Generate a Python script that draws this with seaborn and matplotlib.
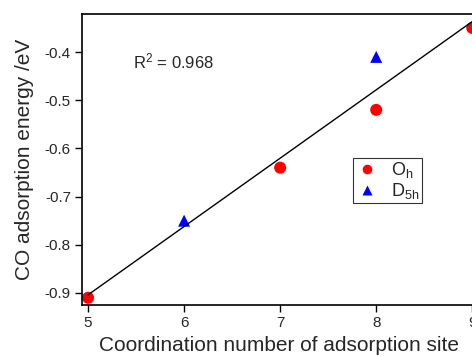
import numpy as np
import pandas as pd
import matplotlib
matplotlib.use("Agg")
import matplotlib.pyplot as plt
import seaborn as sns

# data
oh_cn = [5, 7, 8, 9]
oh_energy = [-0.91, -0.64, -0.52, -0.35]
d5h_cn = [6, 8]
d5h_energy = [-0.75, -0.41]
r2_text = "R$^2$ = 0.968"

df = pd.DataFrame({
    "cn": oh_cn + d5h_cn,
    "energy": oh_energy + d5h_energy,
    "site": ["O$_\\mathregular{h}$"] * len(oh_cn) + ["D$_\\mathregular{5h}$"] * len(d5h_cn),
})

sns.set_style("ticks")
plt.rcParams['font.family'] = ['Liberation Sans', 'DejaVu Sans']
plt.rcParams['mathtext.fontset'] = 'custom'
plt.rcParams['mathtext.rm'] = 'Liberation Sans'
plt.rcParams['mathtext.it'] = 'Liberation Sans'
plt.rcParams['mathtext.default'] = 'regular'

fig = plt.figure(figsize=(4.72, 3.56), dpi=100)
ax = fig.add_axes([0.1737, 0.1433, 0.835, 0.8174])

# linear fit over all points
sns.regplot(data=df, x="cn", y="energy", ci=None, scatter=False, ax=ax,
            line_kws=dict(color="black", lw=1.0))
sns.scatterplot(data=df, x="cn", y="energy", hue="site", style="site",
                palette=["#ff0000", "#0000ff"], markers=["o", "^"],
                s=75, edgecolor="none", ax=ax)

ax.set_xlim(4.937, 9.04)
ax.set_ylim(-0.925, -0.321)
ax.set_xticks([5, 6, 7, 8, 9])
ax.set_yticks([-0.9, -0.8, -0.7, -0.6, -0.5, -0.4])
ax.set_yticklabels(["-0.9", "-0.8", "-0.7", "-0.6", "-0.5", "-0.4"])
ax.tick_params(direction="out", length=5, width=1, labelsize=11, pad=3, color="black")
ax.set_xlabel("Coordination number of adsorption site", fontsize=15, labelpad=4)
ax.set_ylabel("CO adsorption energy /eV", fontsize=15, labelpad=8)
for sp in ["left", "bottom", "top"]:
    ax.spines[sp].set_color("black")
    ax.spines[sp].set_linewidth(1.2)
ax.spines["right"].set_visible(False)

ax.text(5.47, -0.42, r2_text, fontsize=12, va="center", ha="left")

leg = ax.legend(loc="upper left", bbox_to_anchor=(0.688, 0.505), fontsize=13,
                frameon=True, fancybox=False, edgecolor="black",
                handletextpad=0.7, borderpad=0.12, labelspacing=0.05,
                handlelength=1.3, markerscale=0.8, borderaxespad=0)
leg.get_frame().set_linewidth(0.8)

fig.savefig("out.png", dpi=100)
